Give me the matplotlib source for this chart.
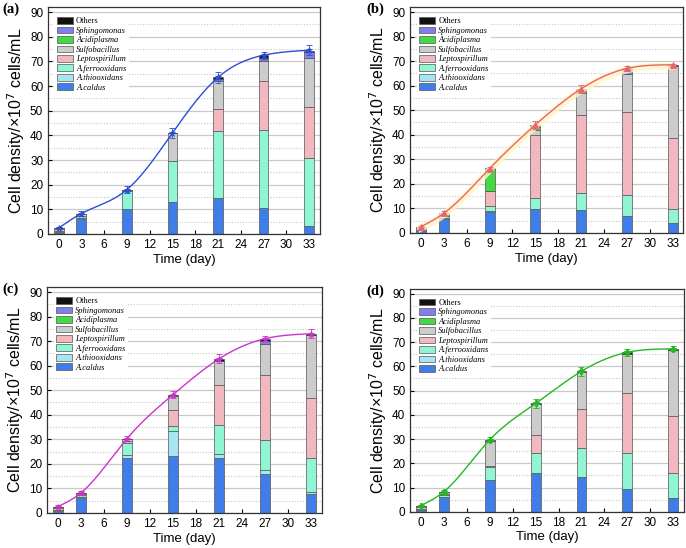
import numpy as np
import matplotlib
matplotlib.use("Agg")
import matplotlib.pyplot as plt
from matplotlib.patches import Patch

days = [0, 3, 9, 15, 21, 27, 33]
taxa = ["A.caldus", "A.thiooxidans", "A.ferrooxidans", "Leptospirillum",
        "Sulfobacillus", "Acidiplasma", "Sphingomonas", "Others"]
colors = ["#3f7ee8", "#a6e6f2", "#8ff5d2", "#f2b8c0",
          "#cccccc", "#44d844", "#7f7fef", "#111111"]

# stacked abundances (x10^7 cells/mL), one row per taxon, one column per day
a_vals = [
    [0.6, 6.0, 10.0, 13.0, 14.6, 10.7, 3.4],
    [0.2, 0.3, 0.0, 0.0, 0.0, 0.0, 0.0],
    [0.3, 1.0, 7.5, 16.5, 27.0, 31.3, 27.3],
    [0.9, 0.2, 0.0, 0.3, 9.1, 20.1, 20.8],
    [0.4, 0.8, 0.5, 11.0, 11.4, 7.9, 19.8],
    [0.0, 0.0, 0.0, 0.0, 0.0, 0.0, 0.0],
    [0.0, 0.0, 0.0, 0.0, 0.7, 1.5, 2.4],
    [0.0, 0.0, 0.0, 0.2, 1.0, 1.0, 0.7],
]
b_vals = [
    [0.8, 5.8, 8.7, 9.8, 9.4, 6.7, 4.2],
    [0.2, 0.3, 0.3, 0.0, 0.0, 0.0, 0.0],
    [0.3, 0.9, 2.0, 4.3, 6.8, 8.8, 5.5],
    [0.5, 0.3, 6.0, 25.9, 32.0, 33.7, 29.0],
    [0.7, 0.7, 0.2, 2.0, 8.8, 15.7, 29.3],
    [0.0, 0.0, 8.8, 1.3, 1.0, 0.0, 0.1],
    [0.0, 0.0, 0.0, 0.0, 0.3, 1.5, 0.1],
    [0.0, 0.0, 0.4, 0.7, 0.4, 0.6, 0.3],
]
c_vals = [
    [0.8, 6.0, 22.2, 23.2, 22.2, 16.0, 7.7],
    [0.2, 0.6, 1.5, 10.0, 1.8, 1.6, 0.8],
    [0.2, 0.8, 4.8, 2.1, 12.0, 12.0, 13.8],
    [0.8, 0.2, 0.7, 6.5, 16.0, 26.6, 24.5],
    [0.6, 0.6, 0.9, 5.9, 9.8, 12.8, 25.7],
    [0.0, 0.0, 0.0, 0.0, 0.0, 0.0, 0.0],
    [0.0, 0.0, 0.0, 0.0, 0.3, 1.0, 0.0],
    [0.0, 0.0, 0.2, 0.5, 0.7, 0.8, 0.5],
]
d_vals = [
    [0.8, 6.1, 13.1, 15.9, 14.5, 9.3, 5.5],
    [0.1, 0.2, 0.0, 0.0, 0.0, 0.0, 0.0],
    [0.2, 0.5, 5.4, 8.2, 11.9, 15.0, 10.5],
    [0.9, 0.5, 0.3, 7.6, 15.9, 24.7, 23.5],
    [0.6, 1.0, 10.5, 12.6, 15.2, 16.0, 27.4],
    [0.0, 0.0, 0.0, 0.0, 0.0, 0.0, 0.0],
    [0.0, 0.0, 0.0, 0.0, 0.0, 0.3, 0.0],
    [0.0, 0.0, 0.4, 0.4, 0.5, 0.5, 0.3],
]

# total cell density curve and its error
a_total = [2.4, 8.3, 18.0, 41.0, 63.5, 72.5, 74.5]
b_total = [2.5, 8.0, 26.2, 44.0, 58.7, 67.0, 68.5]
c_total = [2.6, 8.2, 30.3, 48.2, 62.8, 71.0, 73.0]
d_total = [2.6, 8.3, 29.7, 44.7, 58.0, 65.8, 67.2]
a_err = [0.5, 0.9, 1.3, 2.0, 2.2, 1.4, 2.0]
b_err = [0.5, 0.8, 0.6, 1.8, 1.5, 1.2, 0.5]
c_err = [0.5, 0.8, 1.0, 1.4, 1.8, 1.0, 1.8]
d_err = [0.4, 0.9, 1.0, 1.8, 1.8, 1.5, 1.0]


def spline(x, y, n=300):
    # natural cubic spline for the smooth growth curve
    x = np.asarray(x, float)
    y = np.asarray(y, float)
    k = len(x)
    h = np.diff(x)
    A = np.zeros((k, k))
    r = np.zeros(k)
    A[0, 0] = A[-1, -1] = 1
    for i in range(1, k - 1):
        A[i, i - 1] = h[i - 1]
        A[i, i] = 2 * (h[i - 1] + h[i])
        A[i, i + 1] = h[i]
        r[i] = 3 * ((y[i + 1] - y[i]) / h[i] - (y[i] - y[i - 1]) / h[i - 1])
    c = np.linalg.solve(A, r)
    b = (y[1:] - y[:-1]) / h - h * (2 * c[:-1] + c[1:]) / 3
    d = (c[1:] - c[:-1]) / (3 * h)
    xs = np.linspace(x[0], x[-1], n)
    idx = np.clip(np.searchsorted(x, xs) - 1, 0, k - 2)
    dx = xs - x[idx]
    return xs, y[idx] + b[idx] * dx + c[idx] * dx ** 2 + d[idx] * dx ** 3


fig = plt.figure(figsize=(6.86, 5.48), dpi=100)
panels = [
    ("(a)", [0.070, 0.573, 0.396, 0.414], a_vals, a_total, a_err, "#2a4fd6", "*"),
    ("(b)", [0.598, 0.575, 0.398, 0.412], b_vals, b_total, b_err, "#e8646a", "^"),
    ("(c)", [0.069, 0.064, 0.400, 0.412], c_vals, c_total, c_err, "#cc33cc", "*"),
    ("(d)", [0.598, 0.066, 0.399, 0.407], d_vals, d_total, d_err, "#22b822", "P"),
]

for label, pos, vals, total, err, lc, mk in panels:
    ax = fig.add_axes(pos)
    ax.set_axisbelow(True)
    bottom = np.zeros(len(days))
    for v, col in zip(vals, colors):
        ax.bar(days, v, width=1.3, bottom=bottom, color=col,
               edgecolor="#555555", linewidth=0.5, zorder=2)
        bottom += np.array(v)
    xs, ys = spline(days, total)
    if label == "(b)":
        ax.plot(xs, ys - 0.6, color="#fff5c4", lw=5, alpha=0.8, zorder=3)
    ax.plot(xs, ys, color=lc, lw=1.0, zorder=4)
    ax.errorbar(days, total, yerr=err, fmt=mk, color=lc, ms=4.5, mew=0.6,
                elinewidth=0.6, capsize=2, capthick=0.6, zorder=5)

    ax.set_xlim(-1.4, 34.4)
    ax.set_ylim(0, 92)
    ax.set_xticks(range(0, 34, 3))
    ax.set_yticks(range(0, 91, 10))
    ax.set_yticks(range(5, 91, 10), minor=True)
    ax.grid(axis="y", which="major", color="#c8c8c8", lw=0.9)
    ax.grid(axis="y", which="minor", color="#c8c8c8", lw=0.8, ls=(0, (1, 1.5)))
    ax.tick_params(direction="in", labelsize=8.5, length=3, width=0.8,
                   labelfontfamily="Liberation Sans")
    ax.tick_params(which="minor", length=0)
    for s in ax.spines.values():
        s.set_color("#333333")
        s.set_linewidth(0.9)
    ax.set_xlabel("Time (day)", fontsize=9.5, family="Liberation Sans", labelpad=2)
    ax.set_ylabel("Cell density/×10$^{7}$ cells/mL", fontsize=11.5,
                  family="Liberation Sans", labelpad=2)

    handles = [Patch(facecolor=col, edgecolor="#555555", lw=0.5)
               for col in colors]
    leg = ax.legend(handles[::-1], taxa[::-1], loc="upper left",
                    bbox_to_anchor=(0.008, 0.985), frameon=True,
                    edgecolor="none", facecolor="white", framealpha=1,
                    handlelength=1.9, handleheight=0.85,
                    labelspacing=0.15, handletextpad=0.4, borderpad=0.3,
                    prop={"family": "Liberation Serif", "size": 6})
    for t in leg.get_texts():
        if t.get_text() != "Others":
            t.set_style("italic")
    leg.set_zorder(6)

    fx = pos[0] - 0.066 if pos[0] < 0.5 else pos[0] - 0.064
    fig.text(fx, pos[1] + pos[3] + 0.008, label, fontsize=10.5,
             fontweight="bold", family="Liberation Serif", va="top")

fig.savefig("out.png", dpi=100)
